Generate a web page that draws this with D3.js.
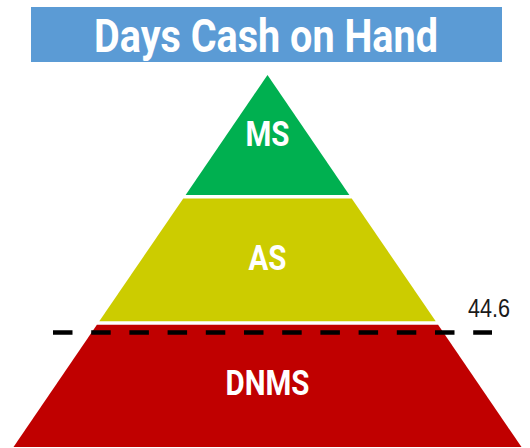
<!DOCTYPE html>
<html>
<head>
<meta charset="utf-8">
<script src="https://cdn.jsdelivr.net/npm/d3@7"></script>
<style>
  body { margin: 0; background: #fff; }
  svg { display: block; }
</style>
</head>
<body>
<svg class="pyramid" width="530" height="448"></svg>
<script>
const title = "Days Cash on Hand"
const tierNames = ["MS", "AS", "DNMS"]
const tierColors = ["#00b050", "#cccc00", "#c00000"]
// tier boundaries, as share of the pyramid height measured from the apex
const tierBreaks = [0, 0.327, 0.667, 1]
const markerLevel = 0.692
const markerLabel = "44.6"

const svg = d3.select("svg.pyramid")
const cx = 267.5
const gap = 3.5

const y = d3.scaleLinear().domain([0, 1]).range([75, 447])
const halfWidth = d3.scaleLinear().domain([0, 1]).range([0, 254])

// title banner
svg.append("rect")
  .attr("x", 31).attr("y", 7)
  .attr("width", 471).attr("height", 55)
  .attr("fill", "#5b9bd5")

svg.append("text")
  .attr("transform", "translate(266,52) scale(0.86,1)")
  .attr("text-anchor", "middle")
  .attr("font-family", "Roboto, 'Liberation Sans', sans-serif")
  .attr("font-weight", "bold")
  .attr("font-size", 46)
  .attr("fill", "#fff")
  .text(title)

// tiers
const tiers = tierNames.map((name, i) => ({
  name,
  color: tierColors[i],
  from: tierBreaks[i],
  to: tierBreaks[i + 1],
  first: i === 0,
  last: i === tierNames.length - 1
}))

function tierPath(d) {
  const top = d.first ? y(d.from) : y(d.from) + gap / 2
  const bottom = d.last ? y(d.to) : y(d.to) - gap / 2
  const wTop = halfWidth(y.invert(top))
  const wBot = halfWidth(y.invert(bottom))
  return d3.line()([
    [cx - wTop, top], [cx + wTop, top],
    [cx + wBot, bottom], [cx - wBot, bottom]
  ]) + "Z"
}

const g = svg.append("g")

g.selectAll("path.tier")
  .data(tiers)
  .enter()
  .append("path")
  .attr("class", "tier")
  .attr("d", tierPath)
  .attr("fill", (d) => d.color)

g.selectAll("text.tier-label")
  .data(tiers)
  .enter()
  .append("text")
  .attr("class", "tier-label")
  .attr("transform", (d) => {
    const mid = (y(d.from) + y(d.to)) / 2 + 10
    return `translate(${cx},${mid}) scale(0.82,1)`
  })
  .attr("text-anchor", "middle")
  .attr("font-family", "Roboto, 'Liberation Sans', sans-serif")
  .attr("font-weight", "bold")
  .attr("font-size", 36)
  .attr("fill", "#fff")
  .text((d) => d.name)

// marker line
svg.append("line")
  .attr("x1", 53).attr("x2", 492)
  .attr("y1", y(markerLevel)).attr("y2", y(markerLevel))
  .attr("stroke", "#000")
  .attr("stroke-width", 4.5)
  .attr("stroke-dasharray", "19.5 18.7")

svg.append("text")
  .attr("transform", `translate(489,${y(markerLevel) - 15.5}) scale(0.83,1)`)
  .attr("text-anchor", "middle")
  .attr("font-family", "'Liberation Sans', Arial, sans-serif")
  .attr("font-size", 26)
  .attr("fill", "#1a1a1a")
  .text(markerLabel)
</script>
</body>
</html>
